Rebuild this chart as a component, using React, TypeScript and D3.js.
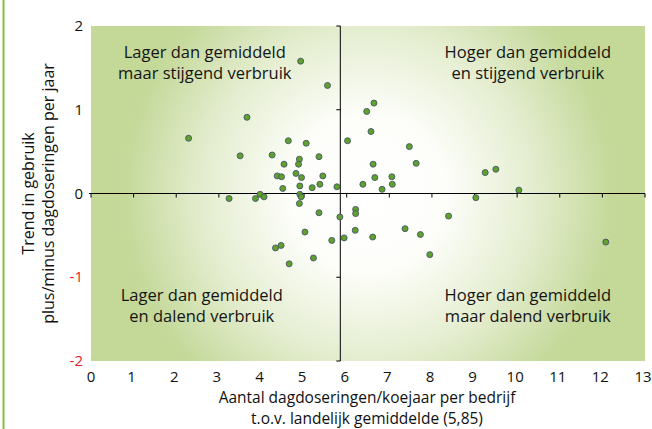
import React from "react";
import * as d3 from "d3";

// quadrant: lager/hoger dan gemiddeld (x), stijgend/dalend (y)
const xValues = [
  4.92, 5.55, 3.66, 2.29, 4.63, 5.05, 3.5, 4.25, 4.53, 4.89, 4.87, 5.35, 4.37, 4.47, 4.81, 4.94, 5.44, 4.5, 4.9, 5.19, 5.37, 5.77,
  6.02, 6.38, 6.47, 6.64, 6.57, 7.47, 6.62, 7.63, 6.66, 7.06, 7.07, 6.83, 9.25, 9.5, 10.04,
  3.24, 3.86, 3.97, 4.06, 4.9, 4.93, 4.89, 5.35, 5.84, 5.02, 5.65, 4.33, 4.46, 5.22, 4.65,
  6.21, 6.21, 6.2, 5.94, 9.03, 8.39, 7.37, 6.61, 7.73, 7.95, 12.08,
];
const yValues = [
  1.58, 1.29, 0.91, 0.66, 0.63, 0.6, 0.45, 0.46, 0.35, 0.41, 0.35, 0.44, 0.21, 0.2, 0.24, 0.19, 0.21, 0.06, 0.09, 0.07, 0.11, 0.08,
  0.63, 0.11, 0.98, 1.08, 0.74, 0.56, 0.35, 0.36, 0.19, 0.2, 0.11, 0.05, 0.25, 0.29, 0.04,
  -0.06, -0.06, -0.01, -0.04, -0.01, -0.04, -0.12, -0.23, -0.28, -0.46, -0.56, -0.65, -0.62, -0.77, -0.84,
  -0.19, -0.24, -0.44, -0.53, -0.05, -0.27, -0.42, -0.52, -0.49, -0.73, -0.58,
];
const xTicks = d3.range(0, 14);
const yTicks = [2, 1, 0, -1, -2];
const gemiddelde = 5.85;
const quadrantLabels = [
  { x: 2.67, y: 1.62, lines: ["Lager dan gemiddeld", "maar stijgend verbruik"] },
  { x: 10.25, y: 1.62, lines: ["Hoger dan gemiddeld", "en stijgend verbruik"] },
  { x: 2.6, y: -1.28, lines: ["Lager dan gemiddeld", "en dalend verbruik"] },
  { x: 10.25, y: -1.28, lines: ["Hoger dan gemiddeld", "maar dalend verbruik"] },
];

const W = 652;
const H = 429;
const font = "'Open Sans', sans-serif";

export default function App() {
  const x = d3.scaleLinear().domain([0, 13]).range([91, 645]);
  const y = d3.scaleLinear().domain([-2, 2]).range([361, 26]);
  const cx = (x(0) + x(13)) / 2;
  const cy = y(0);

  return (
    <svg width={W} height={H} style={{ position: "absolute", left: 0, top: 0, background: "#fff" }}>
      <defs>
        <radialGradient id="bg" gradientUnits="userSpaceOnUse" cx={cx} cy={cy} r={255}>
          <stop offset="0" stopColor="#ffffff" />
          <stop offset="0.3" stopColor="#fdfefa" />
          <stop offset="0.65" stopColor="#e4edcf" />
          <stop offset="0.95" stopColor="#c5d99b" />
          <stop offset="1" stopColor="#c4d898" />
        </radialGradient>
      </defs>
      <line x1={3.5} x2={3.5} y1={0} y2={H} stroke="#86bf45" strokeWidth={2} />
      <rect x={x(0)} y={y(2)} width={x(13) - x(0)} height={y(-2) - y(2)} fill="url(#bg)" />

      {quadrantLabels.map((q, i) => (
        <text key={i} x={x(q.x)} y={y(q.y)} textAnchor="middle" fontFamily={font} fontSize={16.5} fill="#141414">
          {q.lines.map((l, j) => (
            <tspan key={j} x={x(q.x)} dy={j === 0 ? 0 : 21}>{l}</tspan>
          ))}
        </text>
      ))}

      {/* axes */}
      <line x1={x(0) - 2} x2={x(13)} y1={y(0)} y2={y(0)} stroke="#000" strokeWidth={1} />
      {xTicks.map((t) => (
        <line key={t} x1={x(t)} x2={x(t)} y1={y(0)} y2={y(0) + 4} stroke="#000" strokeWidth={1} />
      ))}
      <line x1={x(gemiddelde)} x2={x(gemiddelde)} y1={y(2)} y2={y(-2)} stroke="#000" strokeWidth={1} />
      {yTicks.map((t) => (
        <line key={t} x1={x(gemiddelde) - 4} x2={x(gemiddelde)} y1={y(t)} y2={y(t)} stroke="#000" strokeWidth={1} />
      ))}

      {xValues.map((v, i) => (
        <circle key={i} cx={x(v)} cy={y(yValues[i])} r={3} fill="#5fa12a" stroke="#46566a" strokeWidth={0.9} />
      ))}

      {/* tick labels */}
      {xTicks.map((t) => (
        <text key={t} x={x(t) - (t > 0 ? 2 : 0)} y={382} textAnchor="middle" fontFamily={font} fontSize={15} fill="#111">
          {t}
        </text>
      ))}
      {yTicks.map((t) => (
        <text key={t} x={83} y={y(t) + 5} textAnchor="end" fontFamily={font} fontSize={15} fill={t < 0 ? "#e8202a" : "#111"}>
          {t}
        </text>
      ))}

      <text x={367} textAnchor="middle" fontFamily={font} fontSize={15.5} fill="#111">
        <tspan x={367} y={403}>Aantal dagdoseringen/koejaar per bedrijf</tspan>
        <tspan x={367} y={424}>t.o.v. landelijk gemiddelde (5,85)</tspan>
      </text>
      <text transform={`translate(0,${y(0)}) rotate(-90)`} textAnchor="middle" fontFamily={font} fontSize={16} fill="#111">
        <tspan x={0} y={34}>Trend in gebruik</tspan>
        <tspan x={0} y={54}>plus/minus dagdoseringen per jaar</tspan>
      </text>
    </svg>
  );
}
